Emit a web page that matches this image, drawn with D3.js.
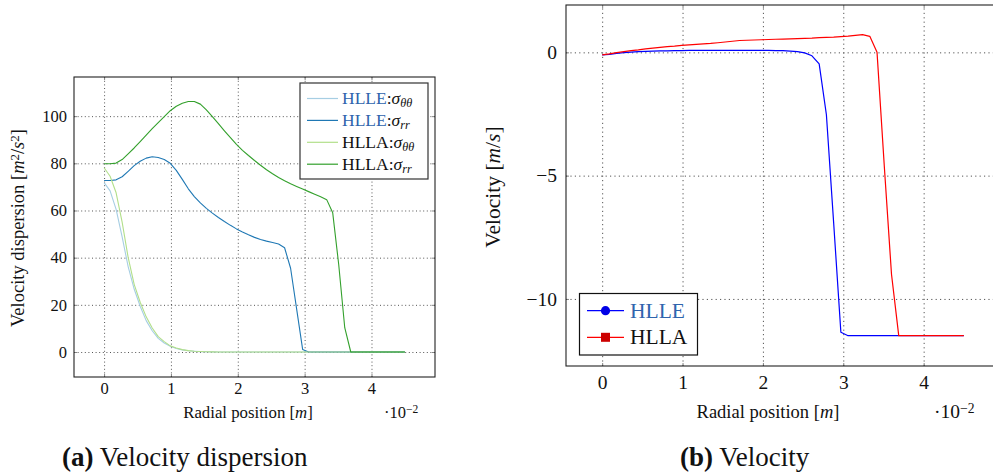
<!DOCTYPE html>
<html><head><meta charset="utf-8">
<script src="https://cdn.jsdelivr.net/npm/d3@7"></script>
<style>
html,body{margin:0;padding:0;background:#fff;}
svg{display:block;font-family:"Liberation Serif","DejaVu Serif",serif;}
svg text{font-family:"Liberation Serif","DejaVu Serif",serif !important;}
</style></head>
<body><svg id="c" width="993" height="474"></svg>
<script>
// ---------- data ----------
const radialPos = [0,0.09,0.18,0.27,0.36,0.45,0.54,0.63,0.72,0.81,0.90,0.99,1.08,1.17,1.26,1.35,1.44,1.53,1.62,1.71,
  1.80,1.89,1.98,2.07,2.16,2.25,2.34,2.43,2.52,2.61,2.70,2.79,2.88,2.97,3.06,3.15,3.24,3.33,3.42,3.51,
  3.60,3.69,3.78,3.87,3.96,4.05,4.14,4.23,4.32,4.41,4.50];
const hlleSigmaTT = [71.8,68.3,60.5,48.8,36.2,26.7,19.4,13.3,9.0,5.8,3.8,2.4,1.5,0.9,0.5,0.3,0.15,0.08,0.04,0.02,
  0.01,0,0,0,0,0,0,0,0,0,0,0,0,0,0,0,0,0,0,0,0,0,0,0,0,0,0,0,0,0,0];
const hlleSigmaRR = [72.7,72.7,73.0,74.3,76.6,79.0,80.9,82.2,82.8,82.5,81.6,80.0,77.0,73.2,69.2,65.9,63.2,60.9,58.9,57.0,
  55.3,53.7,52.2,50.9,49.7,48.6,47.7,47.0,46.4,45.8,44.2,35.5,18.3,1.1,0,0,0,0,0,0,0,0,0,0,0,0,0,0,0,0,0];
const hllaSigmaTT = [78.1,74.5,67.5,55.1,40.1,28.7,21.1,14.9,10.2,6.5,4.4,2.6,1.7,1.0,0.6,0.35,0.2,0.1,0.05,0.03,
  0.01,0,0,0,0,0,0,0,0,0,0,0,0,0,0,0,0,0,0,0,0,0,0,0,0,0,0,0,0,0,0];
const hllaSigmaRR = [79.8,79.8,80.1,81.6,84.0,86.5,89.2,92.0,94.7,97.3,99.8,102.3,104.2,105.5,106.2,106.2,105.1,102.7,99.8,96.8,
  93.8,90.9,88.0,85.5,83.3,81.2,79.2,77.3,75.6,74.0,72.6,71.3,70.2,69.1,68.0,66.9,65.8,64.6,59.0,37.0,
  10.3,0,0,0,0,0,0,0,0,0,0];
const hlleVelocity = [-0.10,-0.08,-0.04,-0.01,0.01,0.03,0.04,0.05,0.06,0.06,0.07,0.07,0.08,0.08,0.08,0.08,0.08,0.08,0.08,0.08,
  0.08,0.08,0.08,0.08,0.07,0.07,0.05,0.03,-0.02,-0.14,-0.47,-2.53,-6.9,-11.35,-11.49,-11.49,-11.49,-11.49,-11.49,-11.49,
  -11.49,-11.49,-11.49,-11.49,-11.49,-11.49,-11.49,-11.49,-11.49,-11.49,-11.49];
const hllaVelocity = [-0.10,-0.06,-0.01,0.03,0.07,0.10,0.14,0.17,0.20,0.23,0.25,0.28,0.30,0.32,0.34,0.36,0.39,0.42,0.45,0.48,
  0.49,0.50,0.51,0.52,0.53,0.54,0.55,0.56,0.57,0.58,0.60,0.61,0.62,0.64,0.66,0.69,0.72,0.65,0.00,-4.6,
  -9.0,-11.49,-11.49,-11.49,-11.49,-11.49,-11.49,-11.49,-11.49,-11.49,-11.49];
const xTicks = [0,1,2,3,4];
const yTicksA = [0,20,40,60,80,100];
const yTicksB = [-10,-5,0];

// ---------- helpers ----------
const svg = d3.select("#c");
svg.append("rect").attr("width",993).attr("height",474).attr("fill","#fff");
function rich(sel, parts, size){
  parts.forEach(p=>{
    const ts = sel.append("tspan").text(p.t);
    if(p.i) ts.attr("font-style","italic");
    if(p.b) ts.attr("font-weight","bold");
    if(p.sub) ts.attr("baseline-shift","-22%").attr("font-size",size*0.7);
    if(p.sup) ts.attr("baseline-shift","38%").attr("font-size",size*0.7);
    if(p.c) ts.attr("fill",p.c);
  });
  return sel;
}
const fmt = d => (d<0 ? "\u2212"+Math.abs(d) : String(d));

function panel(o){
  const g = svg.append("g");
  const x = d3.scaleLinear().domain([-0.45,4.95]).range([o.x0,o.x1]);
  const y = d3.scaleLinear().domain(o.yDom).range([o.y1,o.y0]);
  const W = o.x1-o.x0, H = o.y1-o.y0;
  // grid
  const gx = g.append("g").attr("transform",`translate(0,${o.y1})`)
    .call(d3.axisBottom(x).tickValues(xTicks).tickSize(-H).tickFormat(""));
  const gy = g.append("g").attr("transform",`translate(${o.x0},0)`)
    .call(d3.axisLeft(y).tickValues(o.yTicks).tickSize(-W).tickFormat(""));
  [gx,gy].forEach(a=>{a.select(".domain").remove();
    a.selectAll("line").attr("stroke","#555").attr("stroke-width",o.gw).attr("stroke-dasharray",o.dash);});
  // inward tick marks on all sides
  const tk = [
    [d3.axisBottom(x).tickValues(xTicks), `translate(0,${o.y1})`],
    [d3.axisTop(x).tickValues(xTicks), `translate(0,${o.y0})`],
    [d3.axisLeft(y).tickValues(o.yTicks), `translate(${o.x0},0)`],
    [d3.axisRight(y).tickValues(o.yTicks), `translate(${o.x1},0)`]];
  tk.forEach(([ax,tr])=>{
    const a = g.append("g").attr("transform",tr).call(ax.tickSize(-3).tickFormat(""));
    a.select(".domain").remove();
    a.selectAll("line").attr("stroke","#666").attr("stroke-width",0.8);
  });
  // lines
  const line = d3.line().x((d,i)=>x(radialPos[i])).y(d=>y(d));
  o.series.forEach(s=>{
    g.append("path").datum(s.v).attr("d",line).attr("fill","none")
      .attr("stroke",s.c).attr("stroke-width",o.lw).attr("stroke-linejoin","round");
  });
  // frame
  g.append("rect").attr("x",o.x0).attr("y",o.y0).attr("width",W).attr("height",H)
    .attr("fill","none").attr("stroke","#222").attr("stroke-width",1.1);
  // tick labels
  const lx = g.append("g").attr("transform",`translate(0,${o.y1})`)
    .call(d3.axisBottom(x).tickValues(xTicks).tickSize(0).tickPadding(o.xpad).tickFormat(fmt));
  const ly = g.append("g").attr("transform",`translate(${o.x0},0)`)
    .call(d3.axisLeft(y).tickValues(o.yTicks).tickSize(0).tickPadding(o.ypad).tickFormat(fmt));
  [lx,ly].forEach(a=>{a.select(".domain").remove();
    a.attr("font-family",null).attr("font-size",null);
    a.selectAll("text").style("font-family","'Liberation Serif',serif").attr("font-size",o.tfs).attr("fill","#111");});
  return {g,x,y};
}

// ---------- panel (a) ----------
const A = panel({x0:74,x1:435,y0:77,y1:377,yDom:[-10.6,116.6],yTicks:yTicksA,
  dash:"1,2.6",gw:1,lw:1.1,tfs:16.5,xpad:5,ypad:7,
  series:[{v:hlleSigmaTT,c:"#a6cee3"},{v:hlleSigmaRR,c:"#1f78b4"},{v:hllaSigmaTT,c:"#b2df8a"},{v:hllaSigmaRR,c:"#33a02c"}]});

// ---------- panel (b) ----------
const B = panel({x0:566,x1:1000,y0:5,y1:366,yDom:[-12.72,1.92],yTicks:yTicksB,
  dash:"1.2,3.2",gw:1,lw:1.2,tfs:19.5,xpad:9,ypad:9,
  series:[{v:hlleVelocity,c:"#0000ff"},{v:hllaVelocity,c:"#ff0000"}]});

// ---------- axis titles ----------
rich(svg.append("text").attr("transform","translate(24,228) rotate(-90)").attr("text-anchor","middle")
  .attr("font-size",18.5).attr("fill","#111"),
  [{t:"Velocity dispersion ["},{t:"m",i:1},{t:"2",sup:1},{t:"/"},{t:"s",i:1},{t:"2",sup:1},{t:"]"}],18.5);
rich(svg.append("text").attr("transform","translate(500,187) rotate(-90)").attr("text-anchor","middle")
  .attr("font-size",21.5).attr("fill","#111"),
  [{t:"Velocity ["},{t:"m",i:1},{t:"/"},{t:"s",i:1},{t:"]"}],21.5);
rich(svg.append("text").attr("x",248).attr("y",418).attr("text-anchor","middle").attr("font-size",16.8).attr("fill","#111"),
  [{t:"Radial position ["},{t:"m",i:1},{t:"]"}],16.8);
rich(svg.append("text").attr("x",768).attr("y",418).attr("text-anchor","middle").attr("font-size",18.5).attr("fill","#111"),
  [{t:"Radial position ["},{t:"m",i:1},{t:"]"}],18.5);
rich(svg.append("text").attr("x",384).attr("y",418).attr("font-size",16.5).attr("fill","#111"),
  [{t:"\u00B710"},{t:"\u22122",sup:1}],16.5);
rich(svg.append("text").attr("x",934).attr("y",418).attr("font-size",19.5).attr("fill","#111"),
  [{t:"\u00B710"},{t:"\u22122",sup:1}],19.5);

// ---------- captions ----------
rich(svg.append("text").attr("x",62).attr("y",466).attr("font-size",27).attr("fill","#111"),
  [{t:"(a)",b:1},{t:" Velocity dispersion"}],27);
rich(svg.append("text").attr("x",680).attr("y",466).attr("font-size",27).attr("fill","#111"),
  [{t:"(b)",b:1},{t:" Velocity"}],27);

// ---------- legend (a) ----------
const legA = svg.append("g");
legA.append("rect").attr("x",300).attr("y",83).attr("width",128).attr("height",96)
  .attr("fill","#fff").attr("stroke","#333").attr("stroke-width",1.2);
const legAItems = [
  {name:"HLLE",sub:"\u03B8\u03B8",c:"#a6cee3",tc:"#2f64ad"},
  {name:"HLLE",sub:"rr",c:"#1f78b4",tc:"#2f64ad"},
  {name:"HLLA",sub:"\u03B8\u03B8",c:"#b2df8a",tc:"#111"},
  {name:"HLLA",sub:"rr",c:"#33a02c",tc:"#111"}];
legAItems.forEach((d,i)=>{
  const yy = 98.5 + i*21.9;
  legA.append("line").attr("x1",307).attr("x2",338).attr("y1",yy).attr("y2",yy).attr("stroke",d.c).attr("stroke-width",1.2);
  rich(legA.append("text").attr("x",342).attr("y",yy+5.5).attr("font-size",17.5).attr("fill","#111"),
    [{t:d.name,c:d.tc},{t:":"},{t:"\u03C3",i:1},{t:d.sub,i:1,sub:1}],17.5);
});

// ---------- legend (b) ----------
const legB = svg.append("g");
legB.append("rect").attr("x",579.5).attr("y",293.5).attr("width",118).attr("height",61.5)
  .attr("fill","#fff").attr("stroke","#111").attr("stroke-width",1.2);
[{name:"HLLE",c:"#0000ff",mc:"#0000e6",tc:"#2f64ad",m:"circle"},{name:"HLLA",c:"#ff0000",mc:"#cc0000",tc:"#111",m:"square"}]
.forEach((d,i)=>{
  const yy = 310.7 + i*26.6;
  legB.append("line").attr("x1",587).attr("x2",624).attr("y1",yy).attr("y2",yy).attr("stroke",d.c).attr("stroke-width",1.2);
  if(d.m==="circle") legB.append("circle").attr("cx",605.5).attr("cy",yy).attr("r",4.6).attr("fill",d.mc);
  else legB.append("rect").attr("x",601).attr("y",yy-4.5).attr("width",9).attr("height",9).attr("fill",d.mc);
  legB.append("text").attr("x",630).attr("y",yy+7).attr("font-size",21.5).attr("fill",d.tc).text(d.name);
});
</script></body></html>
